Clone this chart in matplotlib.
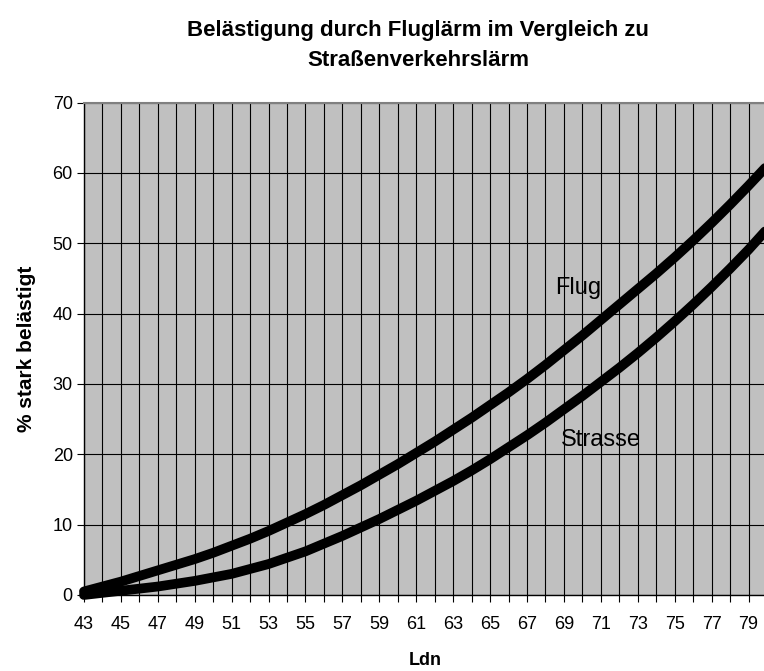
import matplotlib
matplotlib.use("Agg")
import matplotlib.pyplot as plt

plt.rcParams['font.family'] = ['Liberation Sans', 'DejaVu Sans']

# values (one per Ldn step)
ldn = list(range(43, 81))
flug = [0.5, 1.2, 1.9, 2.7, 3.5, 4.3, 5.1, 6.0, 7.0, 8.0,
        9.1, 10.3, 11.5, 12.8, 14.2, 15.6, 17.1, 18.6, 20.2, 21.8,
        23.5, 25.2, 27.0, 28.8, 30.7, 32.7, 34.8, 36.9, 39.1, 41.3,
        43.5, 45.7, 48.0, 50.4, 52.9, 55.5, 58.2, 61.0]
strasse = [0.0, 0.3, 0.6, 0.9, 1.2, 1.6, 2.0, 2.5, 3.0, 3.7,
           4.4, 5.3, 6.2, 7.3, 8.4, 9.6, 10.8, 12.1, 13.4, 14.8,
           16.2, 17.7, 19.3, 21.0, 22.7, 24.5, 26.4, 28.3, 30.3, 32.3,
           34.4, 36.6, 38.9, 41.3, 43.8, 46.4, 49.1, 52.0]

x_ticks = list(range(43, 81))
x_labels = [str(v) if v % 2 else '' for v in x_ticks]
y_ticks = [0, 10, 20, 30, 40, 50, 60, 70]

fig = plt.figure(figsize=(7.64, 6.71), dpi=100)
ax = fig.add_axes([0.1099, 0.1133, 0.894, 0.7337])
ax.set_facecolor('#c0c0c0')

ax.set_xlim(43, 80)
ax.set_ylim(0, 70)
ax.set_xticks(x_ticks)
ax.set_xticklabels(x_labels, fontsize=13)
ax.set_yticks(y_ticks)
ax.tick_params(axis='y', labelsize=13, length=5, width=0.8, direction='out', pad=3)
ax.tick_params(axis='x', length=5, width=0.8, direction='out', pad=10)

ax.grid(True, color='black', linewidth=0.8)
ax.set_axisbelow(True)

ax.plot(ldn, flug, color='black', linewidth=7, solid_capstyle='round',
        solid_joinstyle='round', clip_on=False)
ax.plot(ldn, strasse, color='black', linewidth=7, solid_capstyle='round',
        solid_joinstyle='round', clip_on=False)

ax.text(68.5, 43.6, 'Flug', fontsize=17, va='center', ha='left')
ax.text(68.85, 22.0, 'Strasse', fontsize=17, va='center', ha='left')

for s in ['left', 'bottom']:
    ax.spines[s].set_color('black')
    ax.spines[s].set_linewidth(1)
ax.spines['top'].set_color('#808080')
ax.spines['top'].set_linewidth(1.5)
ax.spines['right'].set_color('#808080')

fig.text(0.547, 0.932, 'Belästigung durch Fluglärm im Vergleich zu\nStraßenverkehrslärm',
         ha='center', va='center', fontsize=16, fontweight='bold', linespacing=1.6)
ax.set_xlabel('Ldn', fontsize=13, fontweight='bold', labelpad=14)
ax.set_ylabel('% stark belästigt', fontsize=15, fontweight='bold', labelpad=12)

fig.savefig('out.png', dpi=100)
